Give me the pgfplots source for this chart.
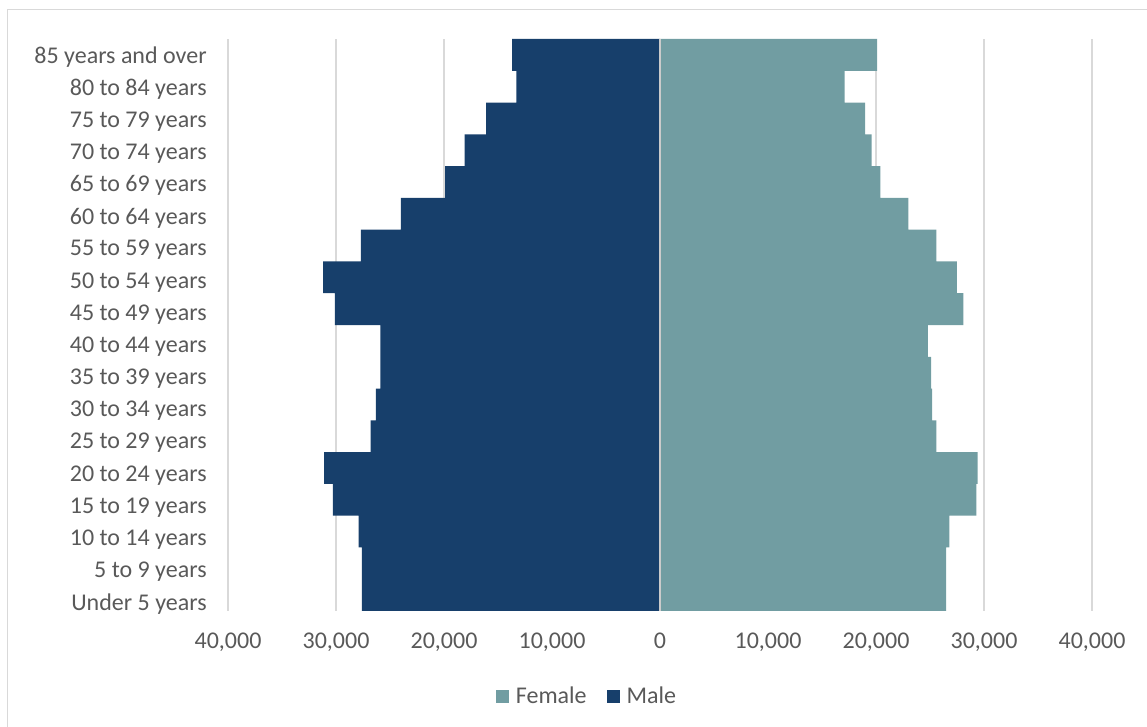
\documentclass[border=0pt]{standalone}
\usepackage{fontspec}
\setmainfont{Carlito}
\usepackage{pgfplots}
\pgfplotsset{compat=1.18}
\definecolor{male}{HTML}{173F6B}
\definecolor{female}{HTML}{719DA2}
\definecolor{gridc}{HTML}{D9D9D9}
\definecolor{txt}{HTML}{595959}
\begin{document}
\fontsize{12pt}{14pt}\selectfont
\begin{tikzpicture}
\useasboundingbox (-114pt,-58pt) rectangle (459.5pt,305.5pt);
\draw[gridc, line width=0.75pt] (-110.25pt,-60pt) -- (-110.25pt,300.75pt) -- (470pt,300.75pt);
\begin{axis}[
  scale only axis,
  width=432pt, height=286pt,
  xmin=-40000, xmax=40000,
  ymin=-0.5, ymax=17.5,
  xbar, bar shift=0pt, bar width=15.9pt,
  axis line style={draw=none},
  major tick length=0pt,
  scaled x ticks=false,
  xmajorgrids, grid style={gridc, line width=0.75pt},
  xtick={-40000,-30000,-20000,-10000,0,10000,20000,30000,40000},
  xticklabels={{40,000},{30,000},{20,000},{10,000},0,{10,000},{20,000},{30,000},{40,000}},
  ytick={-0.280,0.732,1.745,2.757,3.770,4.782,5.795,6.807,7.820,8.832,9.845,10.857,11.870,12.882,13.895,14.907,15.920,16.932},
  yticklabels={Under 5 years,5 to 9 years,10 to 14 years,15 to 19 years,20 to 24 years,25 to 29 years,30 to 34 years,35 to 39 years,40 to 44 years,45 to 49 years,50 to 54 years,55 to 59 years,60 to 64 years,65 to 69 years,70 to 74 years,75 to 79 years,80 to 84 years,85 years and over},
  /pgf/number format/assume math mode=true,
  ticklabel style={font=\fontsize{12pt}{14pt}\selectfont, text=txt},
  xticklabel style={yshift=-7pt},
  yticklabel style={xshift=-6.5pt},
  legend columns=-1,
  legend style={draw=none, fill=none, at={(0.4167,-0.15)}, anchor=center,
    font=\fontsize{12pt}{14pt}\selectfont, text=txt,
    /tikz/every odd column/.append style={column sep=1.5pt},
    /tikz/every even column/.append style={column sep=8pt}},
  legend image code/.code={\fill[#1] (0pt,-3.25pt) rectangle (6.5pt,3.25pt);},
]
\addplot[fill=female, draw=none] coordinates {
(26500,0) (26500,1) (26800,2) (29300,3) (29400,4) (25600,5) (25200,6) (25100,7) (24800,8)
(28100,9) (27500,10) (25600,11) (23000,12) (20400,13) (19600,14) (19000,15) (17100,16) (20100,17)};
\addlegendentry{Female}
\addplot[fill=male, draw=none] coordinates {
(-27600,0) (-27600,1) (-27900,2) (-30300,3) (-31100,4) (-26800,5) (-26300,6) (-25900,7) (-25900,8)
(-30100,9) (-31200,10) (-27700,11) (-24000,12) (-19900,13) (-18100,14) (-16100,15) (-13300,16) (-13700,17)};
\addlegendentry{Male}
\draw[gridc!85!gray, line width=1pt] (axis cs:0,-0.5) -- (axis cs:0,17.5);
\end{axis}
\end{tikzpicture}
\end{document}
